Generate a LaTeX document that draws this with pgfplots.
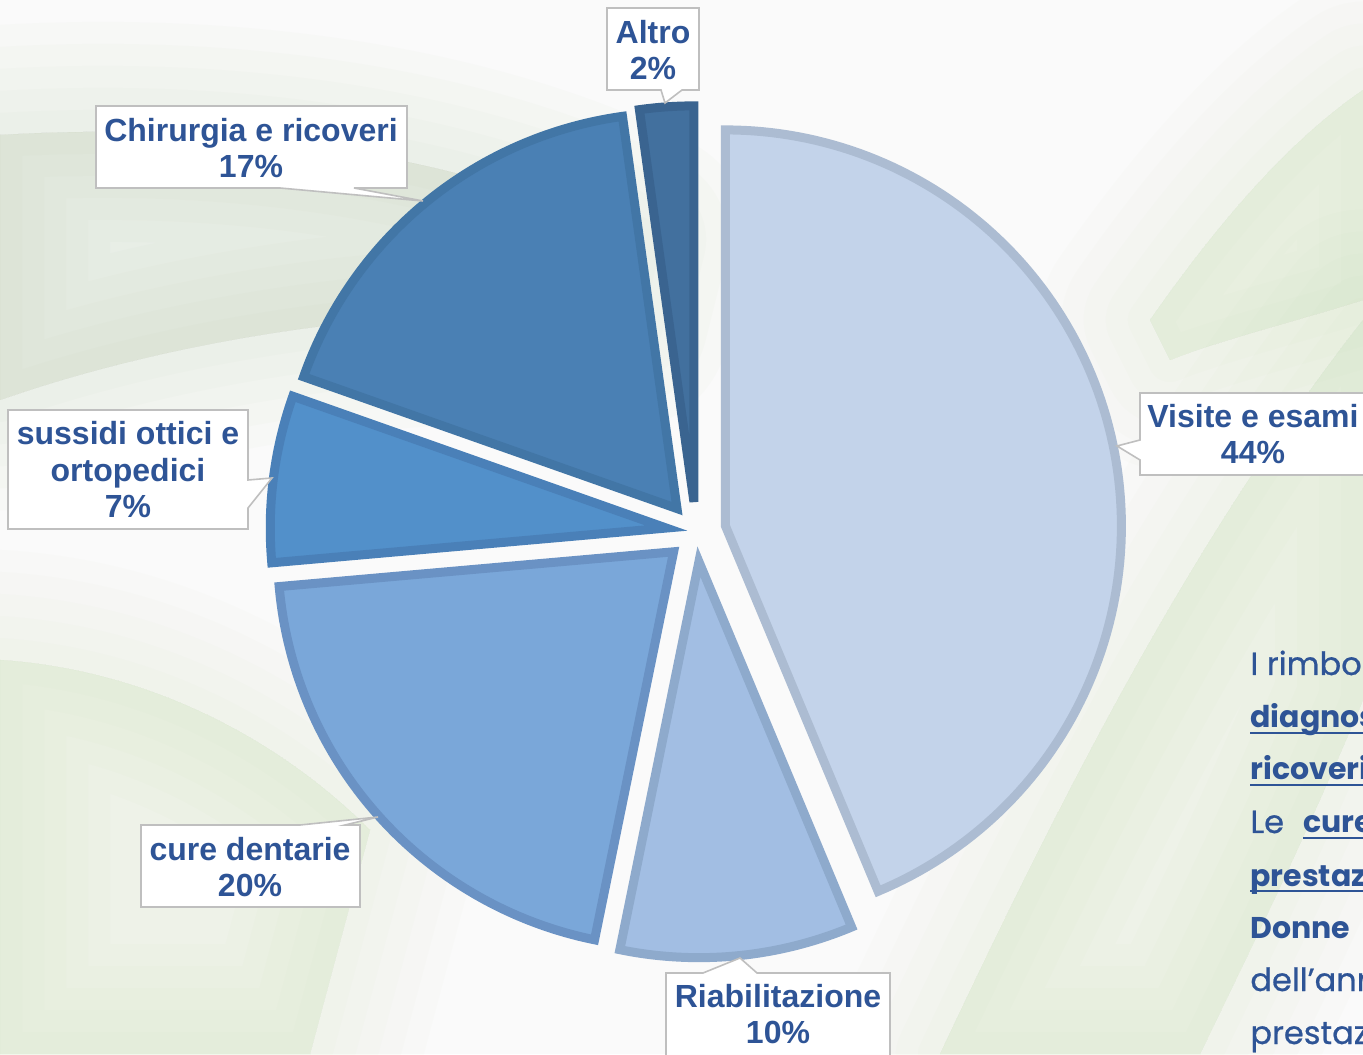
\documentclass[border=0pt]{standalone}
\usepackage{pgfplots}
\pgfplotsset{compat=1.18}
\usepackage{fontspec}
\setmainfont{Liberation Sans}
\newfontfamily\pop[FakeBold=0.7]{Poppins}
\newfontfamily\popb{Poppins}
\definecolor{lblue}{RGB}{46,84,150}
\definecolor{boxgray}{RGB}{191,191,191}
\definecolor{bg}{RGB}{250,250,250}
\definecolor{leafA}{RGB}{168,190,150}
\definecolor{leafB}{RGB}{190,215,160}
% slice colours
\definecolor{visF}{RGB}{195,211,234}\definecolor{visD}{RGB}{172,188,210}
\definecolor{riaF}{RGB}{162,190,227}\definecolor{riaD}{RGB}{142,170,204}
\definecolor{curF}{RGB}{122,167,217}\definecolor{curD}{RGB}{106,146,196}
\definecolor{susF}{RGB}{82,144,202}\definecolor{susD}{RGB}{74,128,184}
\definecolor{chiF}{RGB}{74,128,180}\definecolor{chiD}{RGB}{66,118,166}
\definecolor{altF}{RGB}{66,112,158}\definecolor{altD}{RGB}{58,100,144}
% #1 cumulative share before the slice (%), #2 share (%), #3 fill, #4 border
\newcommand\pieslice[4]{%
  \pgfmathsetmacro\aS{90-3.6*#1}%
  \pgfmathsetmacro\aE{90-3.6*(#1+#2)}%
  \pgfmathsetmacro\aM{(\aS+\aE)/2}%
  \pgfmathsetmacro\cx{696+30*cos(\aM)}%
  \pgfmathsetmacro\cy{531.8-30*sin(\aM)}%
  \edef\doslice{\noexpand\addplot[fill=#3, draw=#4, line width=4.5pt,
     domain=\aE:\aS, samples=120]
     ({\cx+396*cos(x)}, {\cy-396*sin(x)}) -- (\cx,\cy) -- cycle;}%
  \doslice
}
\newcommand\soft[2]{%
  \foreach \w in {110,88,66,44,22,0}{%
    \filldraw[color=#1, opacity=0.03, line width=\w pt, line join=round] #2;}}
\newcommand\ul[1]{\setbox0\hbox{#1}\rlap{\rule[-3pt]{\wd0}{1pt}}\box0}
\tikzset{lbl/.style={font=\bfseries\fontsize{16}{18.25}\selectfont, text=lblue, align=center, inner sep=0pt},
  callout/.style={draw=boxgray, fill=white, line width=0.8pt, line join=miter},
  rt/.style={font=\pop\fontsize{16}{17}\selectfont, text=lblue, anchor=base west, inner sep=0pt},
  rtb/.style={font=\popb\bfseries\fontsize{15}{17}\selectfont, text=lblue, anchor=base west, inner sep=0pt}}
\begin{document}
\begin{tikzpicture}
\useasboundingbox (0,0) rectangle (681.5pt,527pt);
\clip (0,0) rectangle (681.5pt,527pt);
\begin{scope}[shift={(0pt,527pt)}, x=0.5pt, y=-0.5pt]
  \fill[bg] (0,0) rectangle (1363,1054);
  \soft{leafA}{(0,135) .. controls (250,120) and (480,160) .. (640,240) -- (620,320) .. controls (450,300) and (200,330) .. (0,400) -- cycle}
  \soft{leafB}{(0,660) .. controls (150,670) and (280,740) .. (370,830) -- (310,1054) -- (0,1054) -- cycle}
  \soft{leafB}{(940,1054) .. controls (1060,800) and (1190,540) .. (1363,320) -- (1363,700) .. controls (1300,850) and (1250,950) .. (1200,1054) -- cycle}
  \soft{leafB}{(1150,320) .. controls (1220,220) and (1290,140) .. (1363,90) -- (1363,300) .. controls (1300,320) and (1220,340) .. (1170,360) -- cycle}
\end{scope}
\begin{axis}[at={(0pt,0pt)}, anchor=south west, scale only axis,
  width=681.5pt, height=527pt, xmin=0, xmax=1363, ymin=0, ymax=1054,
  y dir=reverse, hide axis, clip=false]
  % shares (%)
  \pieslice{0}{43.7}{visF}{visD}   % Visite e esami
  \pieslice{43.7}{9.5}{riaF}{riaD} % Riabilitazione
  \pieslice{53.2}{20.4}{curF}{curD}% cure dentarie
  \pieslice{73.6}{6.8}{susF}{susD} % sussidi ottici e ortopedici
  \pieslice{80.4}{17.4}{chiF}{chiD}% Chirurgia e ricoveri
  \pieslice{97.8}{2.2}{altF}{altD} % Altro
\end{axis}
\begin{scope}[shift={(0pt,527pt)}, x=0.5pt, y=-0.5pt]
  % callout boxes
  \draw[callout] (607,8) -- (699,8) -- (699,90) -- (682,90) -- (665,103) -- (661,90) -- (607,90) -- cycle;
  \draw[callout] (96,106) -- (407,106) -- (407,188) -- (354,188) -- (423,201) -- (280,188) -- (96,188) -- cycle;
  \draw[callout] (1140,393) -- (1380,393) -- (1380,475) -- (1140,475) -- (1140,460) -- (1117,446) -- (1140,440) -- cycle;
  \draw[callout] (8,410) -- (248,410) -- (248,480) -- (272,478) -- (248,508) -- (248,529) -- (8,529) -- cycle;
  \draw[callout] (141,825) -- (300,825) -- (378,817) -- (345,825) -- (360,825) -- (360,907) -- (141,907) -- cycle;
  \draw[callout] (666,973) -- (703,973) -- (740,958) -- (757,973) -- (890,973) -- (890,1070) -- (666,1070) -- cycle;
  % labels
  \node[lbl] at (653,50) {Altro\\2\%};
  \node[lbl] at (251,148) {Chirurgia e ricoveri\\17\%};
  \node[lbl] at (1253,434) {Visite e esami\\44\%};
  \node[lbl] at (128,470) {sussidi ottici e\\ortopedici\\7\%};
  \node[lbl] at (250,867) {cure dentarie\\20\%};
  \node[lbl] at (778,1014) {Riabilitazione\\10\%};
  % slide text (cut by the picture's right edge, as in the original slide)
  \node[rt] at (1250,675) {I rimborsi};
  \node[rtb] at (1250,728) {\ul{diagnostica}};
  \node[rtb] at (1250,780) {\ul{ricoveri}};
  \node[rt] at (1250,833) {Le};
  \node[rtb] at (1303,833) {\ul{cure}};
  \node[rtb] at (1250,886) {\ul{prestazioni}};
  \node[rtb] at (1250,938) {Donne};
  \node[rt] at (1250,991) {dell’anno};
  \node[rt] at (1250,1044) {prestazioni};
\end{scope}
\end{tikzpicture}
\end{document}
